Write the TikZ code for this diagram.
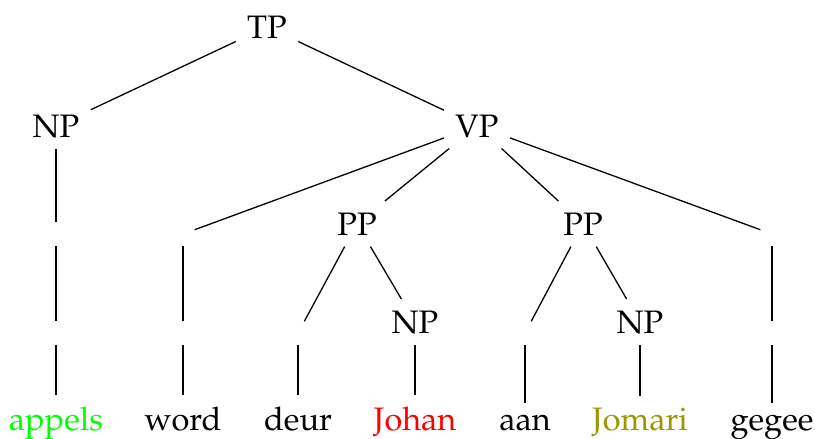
\documentclass[tikz,border=0pt]{standalone}
\usepackage[T1]{fontenc}
\usepackage{mathpazo}
\begin{document}
\begin{tikzpicture}[x=0.3077pt, y=-0.3077pt,
  cat/.style={anchor=base, inner sep=3.33pt, font=\fontsize{10}{12}\selectfont},
  gap/.style={anchor=center, inner sep=3.4pt},
  branch/.style={draw=black, line width=0.4pt}]
\useasboundingbox (0,0) rectangle (815,438);
% phrase nodes (baselines at the tree's levels)
\node[cat] (tp)  at (267,38)  {TP};
\node[cat] (np1) at (56,137)  {NP};
\node[cat] (vp)  at (477,137) {VP};
\node[cat] (pp1) at (357,235) {PP};
\node[cat] (pp2) at (583,235) {PP};
\node[cat] (np2) at (415,333) {NP};
\node[cat] (np3) at (640,333) {NP};
% empty intermediate nodes
\node[gap] (e1a) at (56,234)  {};
\node[gap] (e1b) at (56,333)  {};
\node[gap] (e2a) at (183,234) {};
\node[gap] (e2b) at (183,333) {};
\node[gap] (e3)  at (298,333) {};
\node[gap] (e4)  at (525,333) {};
\node[gap] (e5a) at (772,234) {};
\node[gap] (e5b) at (772,333) {};
% words
\node[cat, text={rgb,255:red,0;green,255;blue,0}] (w1) at (56,430)  {appels};
\node[cat] (w2) at (183,430) {word};
\node[cat] (w3) at (298,430) {deur};
\node[cat, text=red] (w4) at (415,430) {Johan};
\node[cat] (w5) at (525,430) {aan};
\node[cat, text={rgb,255:red,153;green,153;blue,0}] (w6) at (640,430) {Jomari};
\node[cat] (w7) at (772,430) {gegee};
% branches
\draw[branch] (tp) -- (np1);
\draw[branch] (tp) -- (vp);
\draw[branch] (np1) -- (e1a);
\draw[branch] (e1a) -- (e1b);
\draw[branch] (e1b) -- (w1);
\draw[branch] (vp) -- (e2a);
\draw[branch] (e2a) -- (e2b);
\draw[branch] (e2b) -- (w2);
\draw[branch] (vp) -- (pp1);
\draw[branch] (vp) -- (pp2);
\draw[branch] (vp) -- (e5a);
\draw[branch] (e5a) -- (e5b);
\draw[branch] (e5b) -- (w7);
\draw[branch] (pp1) -- (e3);
\draw[branch] (e3) -- (w3);
\draw[branch] (pp1) -- (np2);
\draw[branch] (np2) -- (w4);
\draw[branch] (pp2) -- (e4);
\draw[branch] (e4) -- (w5);
\draw[branch] (pp2) -- (np3);
\draw[branch] (np3) -- (w6);
\end{tikzpicture}
\end{document}
